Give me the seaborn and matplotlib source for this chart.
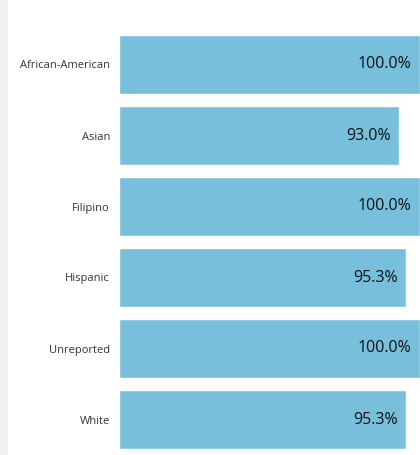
import matplotlib
matplotlib.use("Agg")
import matplotlib.pyplot as plt
from matplotlib.patches import Rectangle
import seaborn as sns
import pandas as pd

groups = ["African-American", "Asian", "Filipino", "Hispanic", "Unreported", "White"]
rates = [100.0, 93.0, 100.0, 95.3, 100.0, 95.3]
labels = ["100.0%", "93.0%", "100.0%", "95.3%", "100.0%", "95.3%"]

df = pd.DataFrame({"group": groups, "rate": rates})

sns.set_theme(style="white")
plt.rcParams["font.family"] = ["Open Sans", "DejaVu Sans"]

fig = plt.figure(figsize=(4.2, 4.55), dpi=100)
fig.patch.set_facecolor("white")
# light panel strip at the left edge
fig.patches.append(Rectangle((0, 0), 8 / 420, 1, transform=fig.transFigure,
                             facecolor="#eef1f6", edgecolor="none", zorder=0))

ax = fig.add_axes([119 / 420, 0, 1 - 119 / 420, 1])
sns.barplot(data=df, x="rate", y="group", orient="h", color="#78bfdc",
            saturation=1, width=0.83, ax=ax)

ax.set_xlim(0, 100)
ax.set_ylim(5.5, -64.5 / 71)
ax.set_xlabel("")
ax.set_ylabel("")
ax.set_xticks([])
ax.tick_params(axis="y", length=0, pad=6.5, labelsize=8, labelcolor="#333333")
for s in ax.spines.values():
    s.set_visible(False)
ax.set_facecolor("none")

for i, (v, t) in enumerate(zip(rates, labels)):
    ax.annotate(t, xy=(v, i), xytext=(-6, 0), textcoords="offset points",
                ha="right", va="center", fontsize=11.5, color="#111111")

fig.savefig("out.png", dpi=100, facecolor=fig.get_facecolor())
